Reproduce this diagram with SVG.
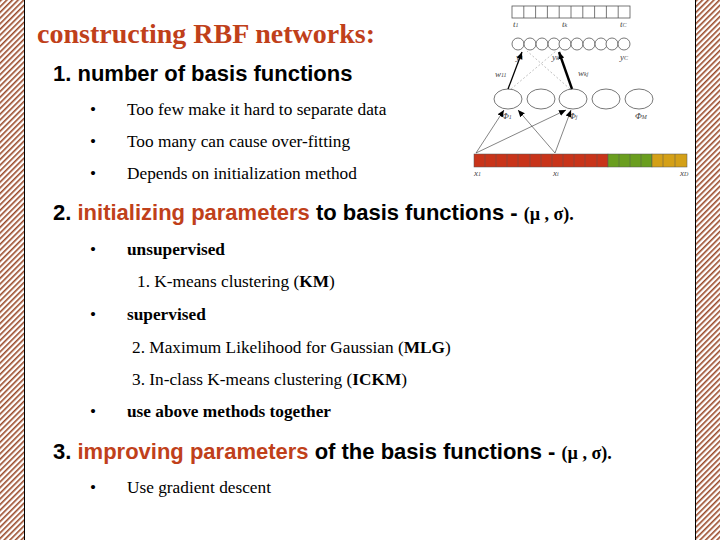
<svg xmlns="http://www.w3.org/2000/svg" width="720" height="540" viewBox="0 0 720 540">
<defs>
<pattern id="h" width="4" height="4" patternUnits="userSpaceOnUse" patternTransform="rotate(45)"><rect width="4" height="4" fill="#fff"/><rect width="1.6" height="4" fill="#9a4a2a"/></pattern>
<marker id="a" markerWidth="8" markerHeight="8" refX="7" refY="4" orient="auto" markerUnits="userSpaceOnUse"><path d="M0,1 L7,4 L0,7 Z" fill="#000"/></marker>
<style>
.s{font-family:"Liberation Serif",serif}
.t{font-family:"Liberation Serif",serif;font-size:17.3px}
.h{font-family:"Liberation Sans",sans-serif;font-size:22px;font-weight:bold}
.r{fill:#c0401a}
.c{fill:#fff;stroke:#555;stroke-width:0.8}
.l{font-family:"Liberation Serif",serif;font-style:italic;font-size:9px;fill:#444}
</style>
</defs>
<rect width="720" height="540" fill="#fff"/>
<rect x="0" y="0" width="24" height="540" fill="url(#h)"/>
<rect x="696" y="0" width="24" height="540" fill="url(#h)"/>
<line x1="24.5" y1="0" x2="24.5" y2="540" stroke="#000"/>
<line x1="695.5" y1="0" x2="695.5" y2="540" stroke="#000"/>
<text class="s r" x="37" y="43" font-size="28" font-weight="bold">constructing RBF networks:</text>
<text class="h" x="53" y="81">1.  number of basis functions</text>
<text class="t" x="90" y="115">•</text><text class="t" x="127" y="115">Too few make it hard to separate data</text>
<text class="t" x="90" y="147">•</text><text class="t" x="127" y="147">Too  many can cause over-fitting</text>
<text class="t" x="90" y="179">•</text><text class="t" x="127" y="179">Depends on initialization method</text>
<text class="h" x="53" y="220">2.  <tspan class="r">initializing parameters</tspan> to basis functions - <tspan class="s" font-size="18">(µ , σ).</tspan></text>
<text class="t" x="90" y="255">•</text><text class="t" x="127" y="255" font-weight="bold">unsupervised</text>
<text class="t" x="137" y="287">1. K-means clustering (<tspan font-weight="bold">KM</tspan>)</text>
<text class="t" x="90" y="320">•</text><text class="t" x="127" y="320" font-weight="bold">supervised</text>
<text class="t" x="132" y="353">2. Maximum Likelihood for Gaussian (<tspan font-weight="bold">MLG</tspan>)</text>
<text class="t" x="132" y="385">3. In-class K-means clustering (<tspan font-weight="bold">ICKM</tspan>)</text>
<text class="t" x="90" y="417">•</text><text class="t" x="127" y="417" font-weight="bold">use above methods together</text>
<text class="h" x="53" y="459">3.  <tspan class="r">improving parameters</tspan> of the basis functions - <tspan class="s" font-size="18">(µ , σ).</tspan></text>
<text class="t" x="90" y="493">•</text><text class="t" x="127" y="493">Use gradient descent</text>
<g id="net">
<g id="targets" fill="#fff" stroke="#555" stroke-width="0.8">
<rect x="512" y="6" width="118" height="12"/>
<path d="M523.8,6v12M535.6,6v12M547.4,6v12M559.2,6v12M571,6v12M582.8,6v12M594.6,6v12M606.4,6v12M618.2,6v12"/>
</g>
<text class="l" x="513" y="27">t<tspan font-size="6">1</tspan></text>
<text class="l" x="562" y="27">t<tspan font-size="6">k</tspan></text>
<text class="l" x="620" y="27">t<tspan font-size="6">C</tspan></text>
<g id="outputs">
<circle class="c" cx="518" cy="44" r="6"/><circle class="c" cx="530" cy="44" r="6"/><circle class="c" cx="542" cy="44" r="6"/><circle class="c" cx="554" cy="44" r="6"/><circle class="c" cx="565" cy="44" r="6"/><circle class="c" cx="577" cy="44" r="6"/><circle class="c" cx="589" cy="44" r="6"/><circle class="c" cx="601" cy="44" r="6"/><circle class="c" cx="612" cy="44" r="6"/><circle class="c" cx="624" cy="44" r="6"/>
</g>
<text class="l" x="516" y="60">y<tspan font-size="6">1</tspan></text>
<text class="l" x="552" y="60">y<tspan font-size="6">k</tspan></text>
<text class="l" x="620" y="60">y<tspan font-size="6">C</tspan></text>
<g id="hidden">
<ellipse class="c" cx="508" cy="99" rx="14" ry="10"/><ellipse class="c" cx="541" cy="99" rx="14" ry="10"/><ellipse class="c" cx="573" cy="99" rx="14" ry="10"/><ellipse class="c" cx="606" cy="99" rx="14" ry="10"/><ellipse class="c" cx="639" cy="99" rx="14" ry="10"/>
</g>
<text class="l" x="502" y="119">Φ<tspan font-size="6">1</tspan></text>
<text class="l" x="569" y="119">Φ<tspan font-size="6">j</tspan></text>
<text class="l" x="635" y="119">Φ<tspan font-size="6">M</tspan></text>
<text class="l" x="495" y="77">w<tspan font-size="6">11</tspan></text>
<text class="l" x="578" y="76">w<tspan font-size="6">kj</tspan></text>
<g id="inputs" stroke="#555" stroke-width="0.5">
<rect x="474" y="154" width="134" height="13" fill="#c8341a"/>
<rect x="608" y="154" width="44" height="13" fill="#6a9e1f"/>
<rect x="652" y="154" width="35" height="13" fill="#d4a017"/>
<path d="M485,154v13M496,154v13M507,154v13M518,154v13M530,154v13M541,154v13M552,154v13M563,154v13M574,154v13M585,154v13M597,154v13M619,154v13M630,154v13M641,154v13M663,154v13M675,154v13"/>
</g>
<text class="l" x="474" y="176">x<tspan font-size="6">1</tspan></text>
<text class="l" x="553" y="176">x<tspan font-size="6">i</tspan></text>
<text class="l" x="680" y="176">x<tspan font-size="6">D</tspan></text>
<g id="connectors" fill="none">
<g stroke="#333" stroke-width="0.6" marker-end="url(#a)">
<line x1="476" y1="153" x2="504" y2="110"/>
<line x1="476" y1="153" x2="566" y2="110"/>
<line x1="555" y1="153" x2="518" y2="110"/>
<line x1="555" y1="153" x2="571" y2="110"/>
</g>
<line x1="508" y1="89" x2="522" y2="52" stroke="#000" stroke-width="1.3" marker-end="url(#a)"/>
<line x1="572" y1="89" x2="559" y2="52" stroke="#000" stroke-width="2.4" marker-end="url(#a)"/>
<line x1="511" y1="89" x2="556" y2="51" stroke="#999" stroke-width="0.6" stroke-dasharray="2,2"/>
<line x1="570" y1="89" x2="527" y2="51" stroke="#999" stroke-width="0.6" stroke-dasharray="2,2"/>
</g>
</g>
</svg>
